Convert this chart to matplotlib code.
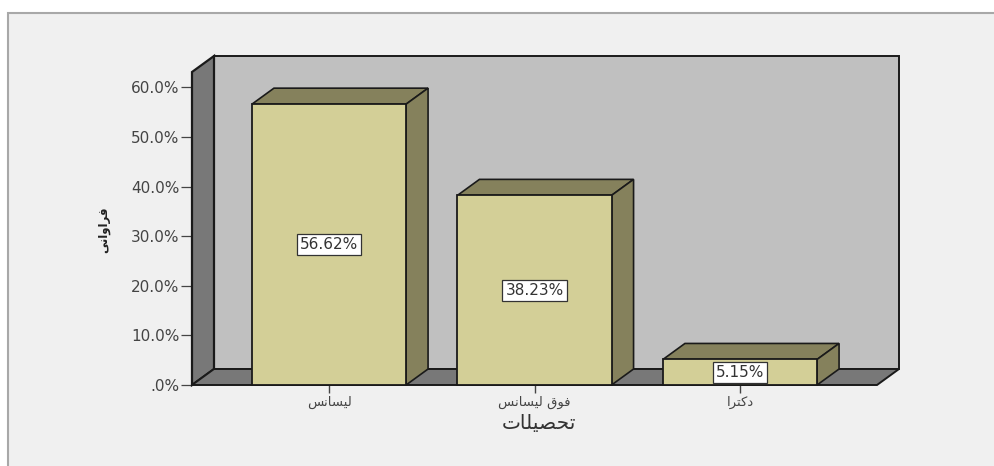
import matplotlib
matplotlib.use("Agg")
import matplotlib.pyplot as plt
from matplotlib.patches import Polygon, Rectangle

W, H = 994, 466

# labels are written as arabic presentation forms, matplotlib does no shaping
def visual(s):
    return s[::-1]

categories = [visual("\ufedf\ufbff\ufeb4\ufe8e\ufee7\ufeb2"),
              visual("\ufed3\ufeee\ufed5 \ufedf\ufbff\ufeb4\ufe8e\ufee7\ufeb2"),
              visual("\ufea9\ufb90\ufe98\ufeae\ufe8d")]
values = [56.62, 38.23, 5.15]
value_labels = ["56.62%", "38.23%", "5.15%"]
y_ticks = [0, 10, 20, 30, 40, 50, 60]
y_tick_labels = [".0%", "10.0%", "20.0%", "30.0%", "40.0%", "50.0%", "60.0%"]
x_title = visual("\ufe97\ufea4\ufebc\ufbff\ufee0\ufe8e\ufe95")
y_title = visual("\ufed3\ufeae\ufe8d\ufeed\ufe8d\ufee7\ufbfd")

plt.rcParams["font.family"] = ["DejaVu Sans"]

fig = plt.figure(figsize=(W / 100, H / 100), dpi=100, facecolor="white")

# grey panel behind the chart, cut off at the bottom and right like the screenshot
fig.add_artist(Rectangle((8 / W, -0.01), 1.02 - 8 / W, (H - 13) / H + 0.01,
                         transform=fig.transFigure, facecolor="#f0f0f0",
                         edgecolor="#a8a8a8", lw=1.5, zorder=-1))

ax = fig.add_axes([192 / W, (H - 385) / H, (877 - 192) / W, (385 - 72) / H])
ax.set_xlim(-2 / 3, 8 / 3)
ax.set_ylim(0, 313 / 4.96)
ax.patch.set_visible(False)

dx = 22 / 205.5
dy = 16 / 4.96
x0, x1 = ax.get_xlim()
top = ax.get_ylim()[1]
edge = "#1a1a1a"

# back wall, left wall, floor
ax.add_patch(Polygon([(x0 + dx, dy), (x1 + dx, dy), (x1 + dx, top + dy), (x0 + dx, top + dy)],
                     facecolor="#c0c0c0", edgecolor=edge, lw=1.4, clip_on=False, zorder=1))
ax.add_patch(Polygon([(x0, 0), (x0 + dx, dy), (x0 + dx, top + dy), (x0, top)],
                     facecolor="#787878", edgecolor=edge, lw=1.6, clip_on=False, zorder=2))
ax.add_patch(Polygon([(x0, 0), (x1, 0), (x1 + dx, dy), (x0 + dx, dy)],
                     facecolor="#787878", edgecolor=edge, lw=1.4, clip_on=False, zorder=2))

bar_w = 0.75
xs = list(range(len(values)))
ax.bar(xs, values, width=bar_w, facecolor="#d3cf97", edgecolor=edge, lw=1.3, zorder=4, clip_on=False)
for x, v, lab in zip(xs, values, value_labels):
    l, r = x - bar_w / 2, x + bar_w / 2
    ax.add_patch(Polygon([(l, v), (r, v), (r + dx, v + dy), (l + dx, v + dy)],
                         facecolor="#85815c", edgecolor=edge, lw=1.2, clip_on=False, zorder=3))
    ax.add_patch(Polygon([(r, 0), (r + dx, dy), (r + dx, v + dy), (r, v)],
                         facecolor="#85815c", edgecolor=edge, lw=1.2, clip_on=False, zorder=3))
    ax.text(x, v / 2, lab, ha="center", va="center", fontsize=11, color="#333333", zorder=6,
            bbox=dict(boxstyle="square,pad=0.2", facecolor="white", edgecolor="#333333", lw=0.9))

ax.set_yticks(y_ticks, y_tick_labels)
ax.set_xticks(xs, categories)
ax.tick_params(axis="y", length=8, width=0.9, color="#444444", labelcolor="#444444",
               labelsize=11, pad=1)
ax.tick_params(axis="x", length=6, width=1, color="#444444", labelcolor="#444444",
               labelsize=9.5, pad=2)
for s in ax.spines.values():
    s.set_visible(False)

fig.text(539 / W, 1 - 424 / H, x_title, ha="center", va="center", fontsize=14.5, color="#333333")
fig.text(104 / W, 1 - 230 / H, y_title, ha="center", va="center", rotation=90, fontsize=8.5,
         fontweight="bold", color="#222222")

fig.savefig("out.png", dpi=100)
